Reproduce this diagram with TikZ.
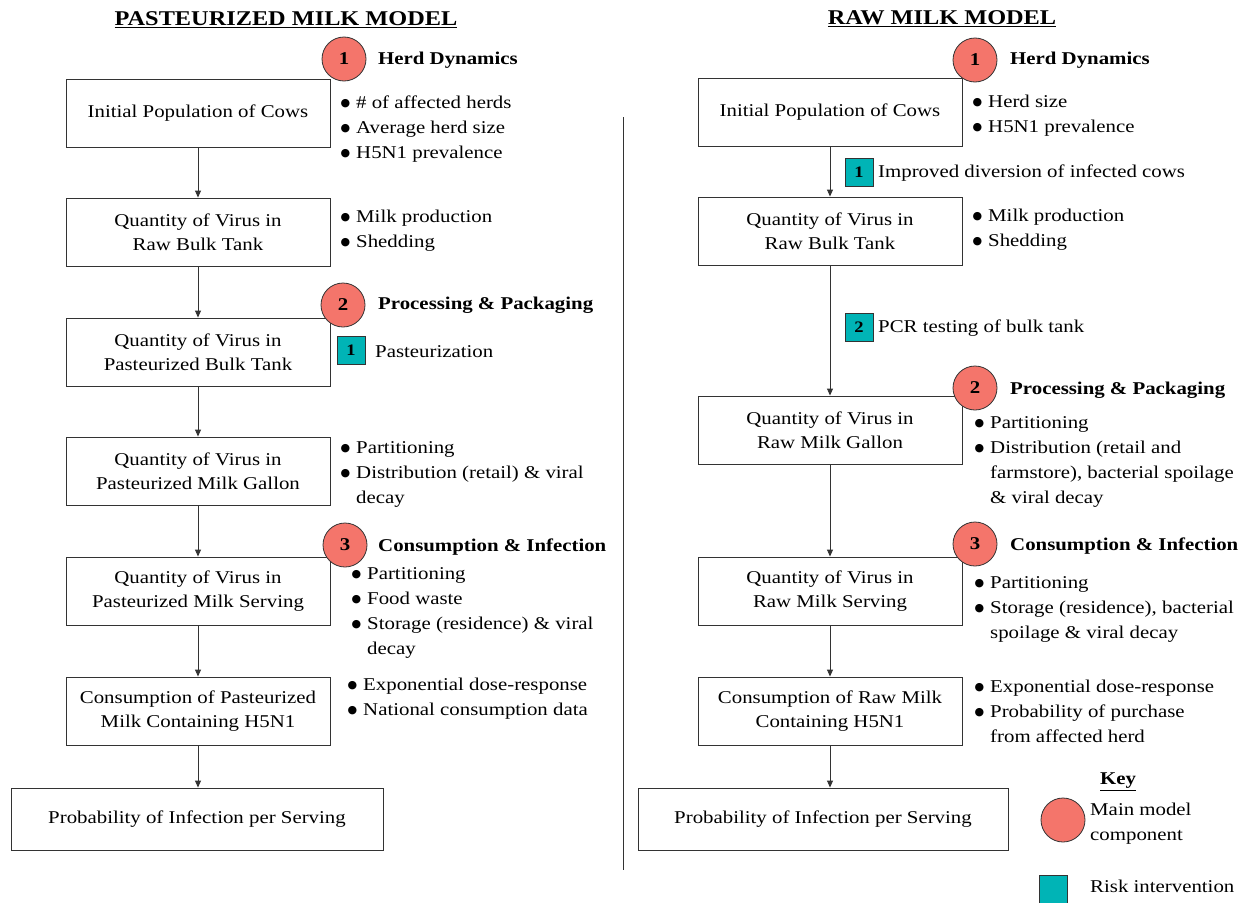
\documentclass[tikz,border=0pt]{standalone}
\usepackage{fontspec}
\setmainfont{Liberation Serif}[FakeStretch=1.158]
\newfontfamily\symfont{DejaVu Sans}
\usetikzlibrary{arrows.meta}
\definecolor{salmon}{HTML}{F4756B}
\definecolor{tealx}{HTML}{00B4B6}
\definecolor{ln}{HTML}{333333}
\newcommand{\bl}{\makebox[13pt][l]{\hspace*{-2.5pt}\raisebox{2.4pt}{\symfont\fontsize{11}{11}\selectfont ●}}}
\newcommand{\ind}{\hspace*{13pt}}
\begin{document}
\begin{tikzpicture}[x=1pt,y=-1pt,
 box/.style={draw=ln, line width=0.9pt, minimum width=264pt, minimum height=68pt, align=center, font=\fontsize{18}{24}\selectfont, inner sep=2pt},
 comp/.style={circle, draw=ln, fill=salmon, minimum size=44pt, inner sep=0pt, font=\fontsize{18}{20}\selectfont\bfseries, line width=0.8pt},
 interv/.style={draw=ln, fill=tealx, minimum size=28pt, inner sep=0pt, font=\fontsize{16}{16}\selectfont\bfseries, line width=0.8pt},
 hdr/.style={anchor=west, inner sep=0pt, yshift=-1.5pt, font=\fontsize{18}{20}\selectfont\bfseries},
 lst/.style={anchor=west, inner sep=0pt, yshift=-1.5pt, align=left, font=\fontsize{18}{25}\selectfont},
 arr/.style={draw=ln, line width=0.9pt, -{Triangle[length=7pt,width=6pt]}},
 ttl/.style={font=\fontsize{21}{24}\selectfont\bfseries, inner sep=0pt, yshift=-1.5pt}
]
\useasboundingbox (0,0) rectangle (1244,902);
% ---------- left ----------
\node[ttl] (t1) at (286,18) {\underline{PASTEURIZED MILK MODEL}};
\node[box] (a1) at (198,113) {Initial Population of Cows};
\node[box] (a2) at (198,232) {Quantity of Virus in\\Raw Bulk Tank};
\node[box] (a3) at (198,352) {Quantity of Virus in\\Pasteurized Bulk Tank};
\node[box] (a4) at (198,471) {Quantity of Virus in\\Pasteurized Milk Gallon};
\node[box] (a5) at (198,591) {Quantity of Virus in\\Pasteurized Milk Serving};
\node[box] (a6) at (198,711) {Consumption of Pasteurized\\Milk Containing H5N1};
\node[box, minimum width=372pt, minimum height=62pt] (a7) at (197,819) {Probability of Infection per Serving};
\draw[arr] (a1.south) -- (a2.north);
\draw[arr] (a2.south) -- (a3.north);
\draw[arr] (a3.south) -- (a4.north);
\draw[arr] (a4.south) -- (a5.north);
\draw[arr] (a5.south) -- (a6.north);
\draw[arr] (a6.south) -- (a6.south |- a7.north);
\node[comp] (c1) at (344,59) {1};
\node[hdr] (h1) at (378,59) {Herd Dynamics};
\node[lst] (b1) at (343,128) {\bl\# of affected herds\\\bl Average herd size\\\bl H5N1 prevalence};
\node[lst] (b2) at (343,229.5) {\bl Milk production\\\bl Shedding};
\node[comp] (c2) at (343,305) {2};
\node[hdr] (h2) at (378,304) {Processing \& Packaging};
\node[interv] (s1) at (351,350) {1};
\node[lst] (p1) at (375,350) {Pasteurization};
\node[lst] (b4) at (343,473) {\bl Partitioning\\\bl Distribution (retail) \& viral\\\ind decay};
\node[comp] (c3) at (345,545) {3};
\node[hdr] (h3) at (378,546) {Consumption \& Infection};
\node[lst] (b5) at (354,611.5) {\bl Partitioning\\\bl Food waste\\\bl Storage (residence) \& viral\\\ind decay};
\node[lst] (b6) at (350,697.5) {\bl Exponential dose-response\\\bl National consumption data};
% divider
\draw[ln, line width=0.9pt] (623,117) -- (623,870);
% ---------- right ----------
\node[ttl] (t2) at (942,17) {\underline{RAW MILK MODEL}};
\node[box] (r1) at (830,112) {Initial Population of Cows};
\node[box] (r2) at (830,231) {Quantity of Virus in\\Raw Bulk Tank};
\node[box] (r3) at (830,430) {Quantity of Virus in\\Raw Milk Gallon};
\node[box] (r4) at (830,591) {Quantity of Virus in\\Raw Milk Serving};
\node[box] (r5) at (830,711) {Consumption of Raw Milk\\Containing H5N1};
\node[box, minimum width=370pt, minimum height=62pt] (r6) at (823,819) {Probability of Infection per Serving};
\draw[arr] (r1.south) -- (r2.north);
\draw[arr] (r2.south) -- (r3.north);
\draw[arr] (r3.south) -- (r4.north);
\draw[arr] (r4.south) -- (r5.north);
\draw[arr] (r5.south) -- (r5.south |- r6.north);
\node[comp] (d1) at (975,60) {1};
\node[hdr] (g1) at (1010,59) {Herd Dynamics};
\node[lst] (e1) at (975,114.5) {\bl Herd size\\\bl H5N1 prevalence};
\node[interv] (q1) at (859,172) {1};
\node[lst] (o1) at (878,172) {Improved diversion of infected cows};
\node[lst] (e2) at (975,228.5) {\bl Milk production\\\bl Shedding};
\node[interv] (q2) at (859,327) {2};
\node[lst] (o2) at (878,327) {PCR testing of bulk tank};
\node[comp] (d2) at (975,388) {2};
\node[hdr] (g2) at (1010,389) {Processing \& Packaging};
\node[lst] (e3) at (977,460.5) {\bl Partitioning\\\bl Distribution (retail and\\\ind farmstore), bacterial spoilage\\\ind \& viral decay};
\node[comp] (d3) at (975,544) {3};
\node[hdr] (g3) at (1010,545) {Consumption \& Infection};
\node[lst] (e4) at (977,608) {\bl Partitioning\\\bl Storage (residence), bacterial\\\ind spoilage \& viral decay};
\node[lst] (e5) at (977,710) {\bl Exponential dose-response\\\bl Probability of purchase\\\ind from affected herd};
% ---------- key ----------
\node[hdr, anchor=center] (k0) at (1118,780) {\underline{Key}};
\node[comp] (k1) at (1063,820) {};
\node[lst] (k2) at (1090,822) {Main model\\component};
\node[interv] (k3) at (1053,889) {};
\node[lst] (k4) at (1090,885) {Risk intervention};
\end{tikzpicture}
\end{document}
